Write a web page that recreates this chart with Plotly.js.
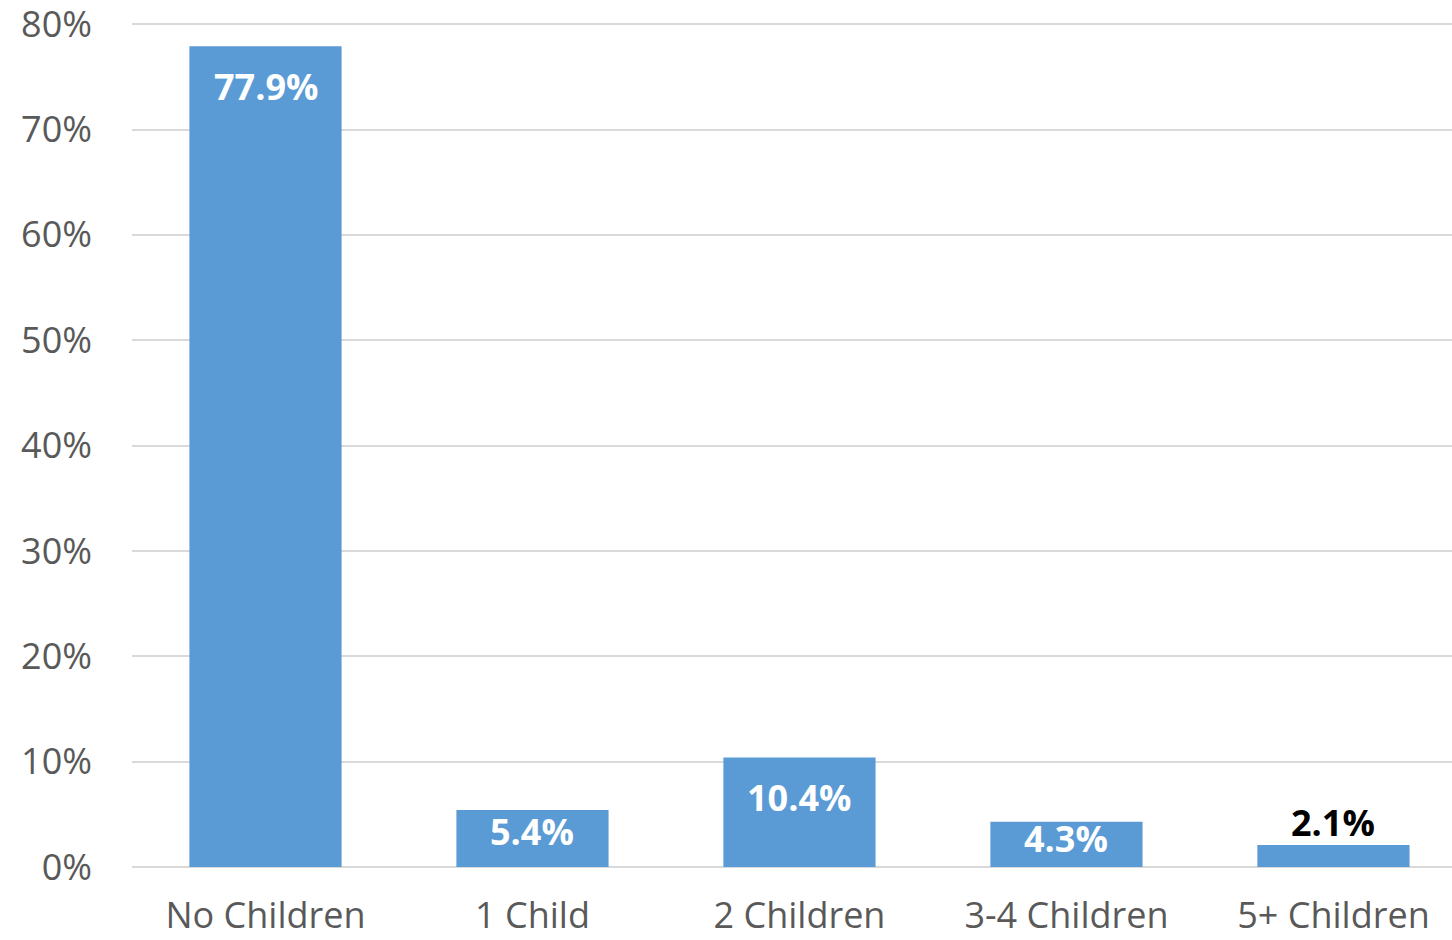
<!DOCTYPE html>
<html>
<head>
<meta charset="utf-8">
<script src="https://cdn.plot.ly/plotly-3.0.1.min.js"></script>
<style>html,body{margin:0;padding:0;background:#fff;}#chart{width:1452px;height:940px;}</style>
</head>
<body>
<div id="chart"></div>
<script>
const categories = ["No Children", "1 Child", "2 Children", "3-4 Children", "5+ Children"];
const values = [77.9, 5.4, 10.4, 4.3, 2.1];
const labels = ["77.9%", "5.4%", "10.4%", "4.3%", "2.1%"];
const labelInside = [true, true, true, true, false];
const yTickVals = [0, 10, 20, 30, 40, 50, 60, 70, 80];
const yTickText = ["0%", "10%", "20%", "30%", "40%", "50%", "60%", "70%", "80%"];

const FONT = "Open Sans, Noto Sans, sans-serif";

const annotations = categories.map((c, i) => {
  const v = values[i];
  if (labelInside[i]) {
    return {
      x: c, y: Math.max(v - 3.8, v * 0.63), xref: 'x', yref: 'y',
      text: '<b>' + labels[i] + '</b>', showarrow: false,
      yanchor: 'middle', xanchor: 'center',
      font: {family: FONT, size: 36, color: '#ffffff'}
    };
  }
  return {
    x: c, y: v, xref: 'x', yref: 'y',
    text: '<b>' + labels[i] + '</b>', showarrow: false,
    yanchor: 'bottom', xanchor: 'center', yshift: -4,
    font: {family: FONT, size: 36, color: '#000000'}
  };
});

const trace = {
  type: 'bar',
  x: categories,
  y: values,
  marker: {color: '#5b9bd5'},
  hoverinfo: 'none'
};

const layout = {
  width: 1452, height: 940,
  margin: {l: 132, r: 0, t: 21, b: 73, pad: 0},
  paper_bgcolor: '#ffffff', plot_bgcolor: '#ffffff',
  bargap: 0.43,
  showlegend: false,
  font: {family: FONT, color: '#595959'},
  xaxis: {
    type: 'category',
    range: [-0.5, 4.444],
    showgrid: false, zeroline: false, showline: false,
    ticks: '', tickfont: {family: FONT, size: 36, color: '#595959'},
    ticklabelstandoff: 24,
    ticklabeloverflow: 'allow',
    fixedrange: true
  },
  yaxis: {
    range: [0, 80.3],
    tickvals: yTickVals, ticktext: yTickText,
    showgrid: true, gridcolor: '#d9d9d9', gridwidth: 2,
    zeroline: true, zerolinecolor: '#d9d9d9', zerolinewidth: 2,
    showline: false, ticks: '',
    tickfont: {family: FONT, size: 36, color: '#595959'},
    ticklabelstandoff: 39,
    ticklabeloverflow: 'allow',
    fixedrange: true
  },
  annotations: annotations
};

Plotly.newPlot('chart', [trace], layout, {displayModeBar: false, staticPlot: true});
</script>
</body>
</html>
